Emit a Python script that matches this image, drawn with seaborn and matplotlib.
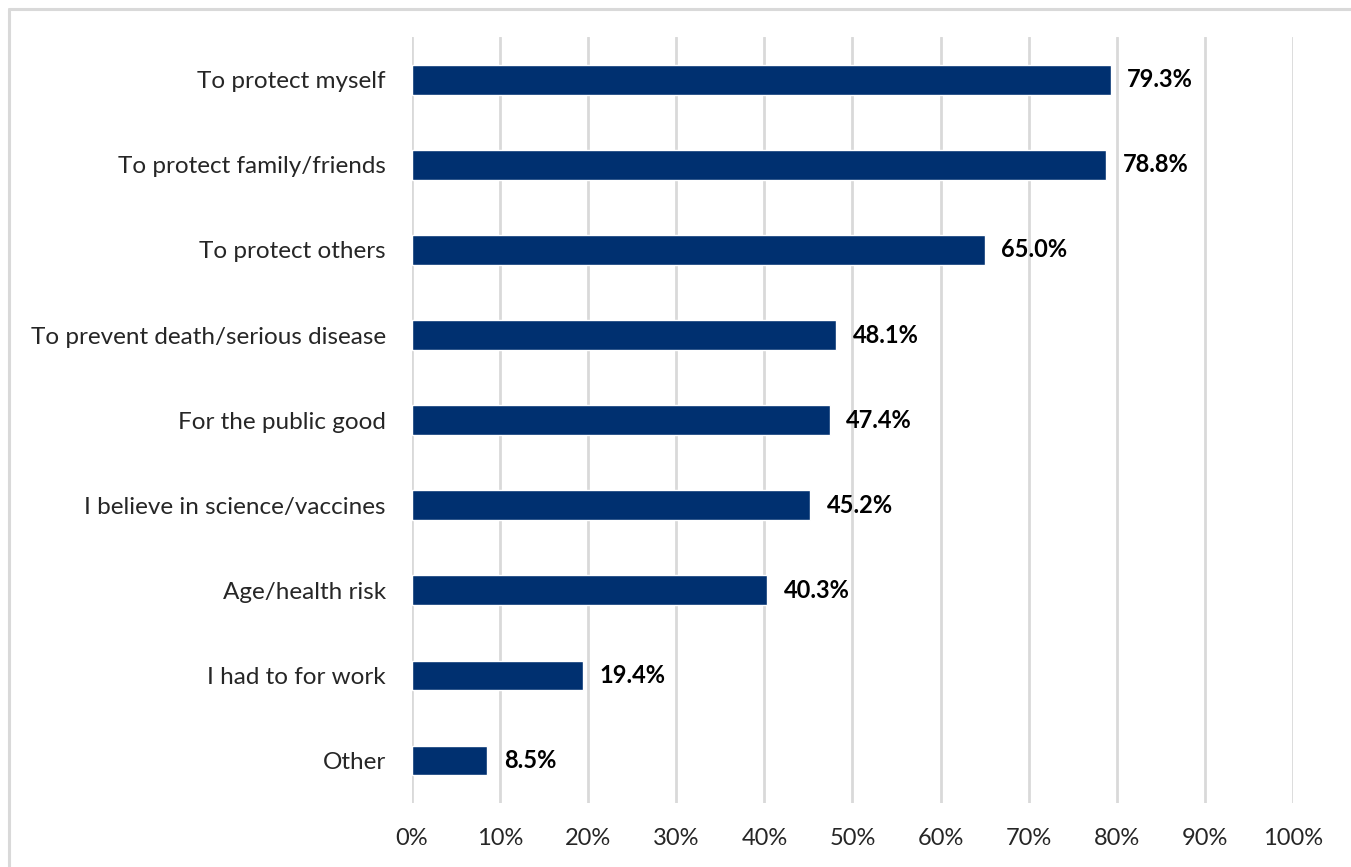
import matplotlib
matplotlib.use("Agg")
import matplotlib.pyplot as plt
import pandas as pd
import seaborn as sns
from matplotlib.lines import Line2D

reasons = [
    "To protect myself",
    "To protect family/friends",
    "To protect others",
    "To prevent death/serious disease",
    "For the public good",
    "I believe in science/vaccines",
    "Age/health risk",
    "I had to for work",
    "Other",
]
percent = [79.3, 78.8, 65.0, 48.1, 47.4, 45.2, 40.3, 19.4, 8.5]
xticks = [0, 10, 20, 30, 40, 50, 60, 70, 80, 90, 100]

df = pd.DataFrame({"reason": reasons, "percent": percent})

sns.set_theme(style="white")
plt.rcParams["font.family"] = ["Lato", "DejaVu Sans"]

fig = plt.figure(figsize=(13.51, 8.67), dpi=100)
ax = fig.add_axes([0.305, 0.0738, 0.652, 0.8832])

# light frame of the chart area (only top and left edges are in view)
fx, fy = 8.5 / 1351, 1 - 8.5 / 867
fig.add_artist(Line2D([fx, 1.0], [fy, fy], transform=fig.transFigure,
                      color="#d9d9d9", linewidth=2.2))
fig.add_artist(Line2D([fx, fx], [0.0, fy], transform=fig.transFigure,
                      color="#d9d9d9", linewidth=2.2))

sns.barplot(data=df, x="percent", y="reason", color="#003070",
            width=0.35, saturation=1, ax=ax, zorder=3)

for i, v in enumerate(percent):
    ax.text(v + 1.9, i, f"{v:.1f}%", va="center", ha="left",
            fontsize=17, fontweight="bold", color="black")

ax.set_xlim(0, 100)
ax.set_ylim(8.5, -0.5)
ax.set_xticks(xticks)
ax.set_xticklabels([f"{t}%" for t in xticks], fontsize=17)
ax.tick_params(axis="y", labelsize=17.5, pad=19, length=0)
ax.tick_params(axis="x", pad=18, length=0)
ax.xaxis.grid(True, color="#d9d9d9", linewidth=2, zorder=0)
ax.yaxis.grid(False)
for s in ax.spines.values():
    s.set_visible(False)
ax.set_xlabel("")
ax.set_ylabel("")

plt.savefig("out.png", dpi=100)
